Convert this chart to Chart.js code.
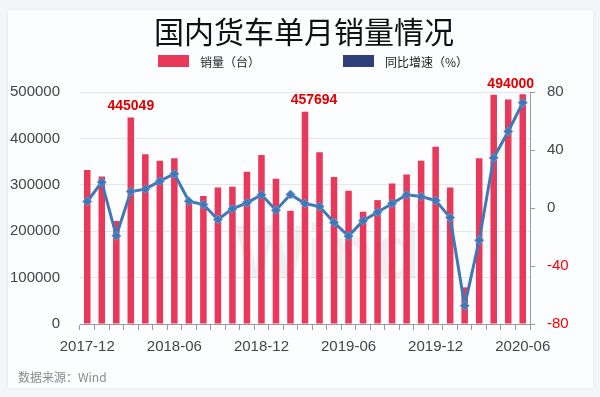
<!DOCTYPE html>
<html>
<head>
<meta charset="utf-8">
<script src="https://cdn.jsdelivr.net/npm/chart.js@4.4.0/dist/chart.umd.min.js"></script>
<style>
  body { margin: 0; background: #f3f5f8; width: 600px; height: 397px; overflow: hidden; }
  #card { position: absolute; left: 8px; top: 10px; width: 585px; height: 378px; background: #fcfdfe; box-shadow: 0 0 3px rgba(0,0,0,0.08); }
  #c { position: absolute; left: 0; top: 0; }
</style>
</head>
<body>
<div id="card"></div>
<canvas id="c" width="600" height="397"></canvas>
<script>
// mois 2017-12 -> 2020-06
var months = ['2017-12','2018-01','2018-02','2018-03','2018-04','2018-05','2018-06','2018-07','2018-08','2018-09','2018-10','2018-11',
  '2018-12','2019-01','2019-02','2019-03','2019-04','2019-05','2019-06','2019-07','2019-08','2019-09','2019-10','2019-11',
  '2019-12','2020-01','2020-02','2020-03','2020-04','2020-05','2020-06'];
// 销量（台）
var sales = [332000, 318000, 222000, 445049, 366000, 352000, 357000, 268000, 276000, 294000, 296000, 328000,
  364000, 313000, 244000, 457694, 370000, 317000, 287000, 242000, 267000, 303000, 322000, 352000,
  382000, 294000, 79000, 357000, 494000, 484000, 495000];
// 同比增速（%）
var growth = [4.5, 17.8, -19.2, 11.4, 13, 18.5, 23.6, 4.7, 2.4, -7.9, -0.6, 3.6,
  9.1, -1.5, 9.3, 3.1, 1, -10, -19.4, -8.8, -2.9, 3.1, 9.1, 7.9,
  5.2, -6.6, -67.4, -22.2, 34.6, 52.8, 72.6];
var markedBars = [3, 15, 28]; // barres annotées
var leftTicks = [0, 100000, 200000, 300000, 400000, 500000];
var rightTicks = [-80, -40, 0, 40, 80];

var numFont = "'Liberation Sans', Arial, sans-serif";
var cjkFont = "'Noto Sans CJK SC', sans-serif";

var extras = {
  id: 'extras',
  beforeDatasetsDraw: function(chart) {
    var ctx = chart.ctx;
    ctx.save();
    // filigrane
    ctx.font = 'bold 76px ' + numFont;
    ctx.fillStyle = 'rgba(120,120,120,0.1)';
    ctx.textAlign = 'center';
    ctx.textBaseline = 'middle';
    ctx.fillText('Wind', 328, 257);
    ctx.restore();
  },
  afterDatasetsDraw: function(chart) {
    var ctx = chart.ctx;
    var meta = chart.getDatasetMeta(0);
    var shift = {3: 0, 15: 9, 28: 17};
    ctx.save();
    ctx.font = 'bold 14px ' + numFont;
    ctx.fillStyle = '#e00000';
    ctx.textAlign = 'center';
    ctx.textBaseline = 'bottom';
    markedBars.forEach(function(i) {
      var bar = meta.data[i];
      ctx.fillText(String(sales[i]), bar.x + (shift[i] || 0), bar.y - 4);
    });
    ctx.restore();
  },
  afterDraw: function(chart) {
    var ctx = chart.ctx;
    ctx.save();
    // titre
    ctx.font = '30px ' + cjkFont;
    ctx.fillStyle = '#111';
    ctx.textAlign = 'center';
    ctx.textBaseline = 'middle';
    ctx.fillText('国内货车单月销量情况', 304, 32);
    // légende
    ctx.font = '12px ' + cjkFont;
    ctx.textAlign = 'left';
    ctx.fillStyle = '#e8395b';
    ctx.fillRect(158, 55, 31, 12);
    ctx.fillStyle = '#222';
    ctx.fillText(chart.data.datasets[0].label, 200, 62);
    ctx.fillStyle = '#2e3f7a';
    ctx.fillRect(343, 55, 31, 12);
    ctx.fillStyle = '#222';
    ctx.fillText(chart.data.datasets[1].label, 385, 62);
    // source
    ctx.font = '12px ' + cjkFont;
    ctx.fillStyle = '#8a8a8a';
    ctx.fillText('数据来源：Wind', 18, 377);
    ctx.restore();
  }
};

var ctx = document.getElementById('c').getContext('2d');
var chart = new Chart(ctx, {
  type: 'bar',
  data: {
    labels: months,
    datasets: [{
      label: '销量（台）',
      data: sales,
      yAxisID: 'y',
      backgroundColor: '#e8395b',
      borderWidth: 0,
      categoryPercentage: 1,
      barPercentage: 0.45,
      order: 1
    }, {
      type: 'line',
      label: '同比增速（%）',
      data: growth,
      yAxisID: 'y1',
      borderColor: '#3f78b9',
      backgroundColor: '#3f78b9',
      borderWidth: 3,
      tension: 0,
      pointStyle: 'rectRot',
      pointRadius: 4.5,
      pointBorderColor: '#6b97c9',
      pointBorderWidth: 1,
      order: 0
    }]
  },
  options: {
    responsive: false,
    animation: false,
    layout: { padding: { top: 92, bottom: 0, left: 0, right: 0 } },
    plugins: {
      legend: { display: false },
      title: { display: false },
      tooltip: { enabled: false }
    },
    scales: {
      x: {
        offset: true,
        afterFit: function(s) { s.height = 73; },
        grid: { offset: true, drawOnChartArea: false, drawTicks: true, tickLength: 6, color: '#9a9a9a' },
        border: { display: true, color: '#9a9a9a' },
        ticks: {
          autoSkip: false, maxRotation: 0, padding: 8,
          color: '#444', font: { family: numFont, size: 15 },
          callback: function(v, i) { return i % 6 === 0 ? months[i] : ''; }
        }
      },
      y: {
        position: 'left',
        min: 0, max: 500000,
        afterFit: function(s) { s.width = 80; },
        afterBuildTicks: function(s) { s.ticks = leftTicks.map(function(v) { return { value: v }; }); },
        grid: { color: '#e4e6ea', drawTicks: false },
        border: { display: false },
        ticks: {
          padding: 20, color: '#444', font: { family: numFont, size: 15 },
          callback: function(v) { return String(v); }
        }
      },
      y1: {
        position: 'right',
        min: -80, max: 80,
        afterFit: function(s) { s.width = 70; },
        afterBuildTicks: function(s) { s.ticks = rightTicks.map(function(v) { return { value: v }; }); },
        grid: { drawOnChartArea: false, drawTicks: true, tickLength: 5, color: '#9a9a9a' },
        border: { display: true, color: '#9a9a9a' },
        ticks: {
          padding: 12, font: { family: numFont, size: 15 },
          color: function(c) { return c.tick.value < 0 ? '#ff0000' : '#444'; },
          callback: function(v) { return String(v); }
        }
      }
    }
  },
  plugins: [extras]
});
</script>
</body>
</html>
